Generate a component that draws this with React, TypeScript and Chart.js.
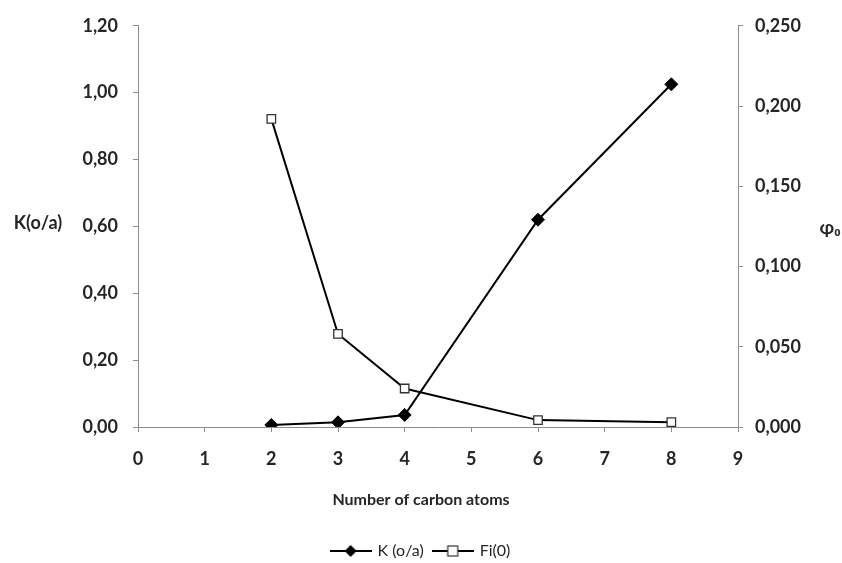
import React, { useEffect, useRef } from "react";
import { Chart, registerables } from "chart.js";

Chart.register(...registerables);

// ---- data ----
const carbonAtoms = [2, 3, 4, 6, 8];
const kValues = [0.006, 0.014, 0.036, 0.62, 1.025];
const fiValues = [0.192, 0.058, 0.024, 0.0043, 0.003];
const seriesNames = ["K (o/a)", "Fi(0)"];
const xTitle = "Number of carbon atoms";
const leftTitle = "K(o/a)";
const rightTitle = "φ₀";

const FONT = 'Lato, "DejaVu Sans", sans-serif';
const TEXT = "#262626";
const AXIS = "#8c8c8c";

function legendImage(kind: "diamond" | "square"): HTMLCanvasElement {
  const c = document.createElement("canvas");
  c.width = 42;
  c.height = 16;
  const ctx = c.getContext("2d")!;
  ctx.strokeStyle = "#000";
  ctx.lineWidth = 2;
  ctx.beginPath();
  ctx.moveTo(0, 8);
  ctx.lineTo(42, 8);
  ctx.stroke();
  if (kind === "diamond") {
    ctx.fillStyle = "#000";
    ctx.beginPath();
    ctx.moveTo(21, 2);
    ctx.lineTo(27, 8);
    ctx.lineTo(21, 14);
    ctx.lineTo(15, 8);
    ctx.closePath();
    ctx.fill();
  } else {
    ctx.fillStyle = "#fff";
    ctx.fillRect(16, 3, 10, 10);
    ctx.lineWidth = 1.2;
    ctx.strokeStyle = "#333";
    ctx.strokeRect(16, 3, 10, 10);
  }
  return c;
}

const axisTitlesPlugin = {
  id: "axisTitlesPlugin",
  afterDraw(chart: any) {
    const { ctx, chartArea, scales } = chart;
    const midY = (chartArea.top + chartArea.bottom) / 2;
    ctx.save();
    ctx.fillStyle = TEXT;
    ctx.textBaseline = "middle";
    ctx.textAlign = "center";
    ctx.font = `bold 18px ${FONT}`;
    ctx.fillText(leftTitle, chartArea.left - 100, midY - 3);
    ctx.font = `bold 19px ${FONT}`;
    ctx.fillText(rightTitle, chartArea.right + 92, midY + 1);
    ctx.font = `bold 16px ${FONT}`;
    ctx.fillText(xTitle, chart.width / 2, scales.x.bottom - 33);
    ctx.restore();
  },
};

export default function App() {
  const canvasRef = useRef<HTMLCanvasElement | null>(null);

  useEffect(() => {
    if (!canvasRef.current) return;
    const kImg = legendImage("diamond");
    const fImg = legendImage("square");
    const chart = new Chart(canvasRef.current, {
      type: "line",
      data: {
        datasets: [
          {
            label: seriesNames[0],
            data: carbonAtoms.map((x, i) => ({ x, y: kValues[i] })),
            yAxisID: "y",
            borderColor: "#000",
            borderWidth: 2,
            backgroundColor: "#000",
            pointStyle: "rectRot",
            pointRadius: 6.5,
            pointBackgroundColor: "#000",
            pointBorderColor: "#000",
            pointBorderWidth: 1,
            tension: 0,
          },
          {
            label: seriesNames[1],
            data: carbonAtoms.map((x, i) => ({ x, y: fiValues[i] })),
            yAxisID: "y1",
            borderColor: "#000",
            borderWidth: 2,
            backgroundColor: "#fff",
            pointStyle: "rect",
            pointRadius: 6,
            pointBackgroundColor: "#fff",
            pointBorderColor: "#333",
            pointBorderWidth: 1.3,
            tension: 0,
          },
        ],
      },
      options: {
        animation: false,
        responsive: false,
        maintainAspectRatio: false,
        layout: { padding: { top: 20, left: 0, right: 0, bottom: -6 } },
        plugins: {
          tooltip: { enabled: false },
          legend: {
            position: "bottom",
            labels: {
              usePointStyle: true,
              pointStyleWidth: 38,
              padding: 10,
              color: TEXT,
              font: { family: FONT, size: 16 },
              generateLabels: () => [
                { text: seriesNames[0], pointStyle: kImg as any, fillStyle: "#000", strokeStyle: "#000", lineWidth: 0, hidden: false, datasetIndex: 0, fontColor: TEXT },
                { text: seriesNames[1], pointStyle: fImg as any, fillStyle: "#fff", strokeStyle: "#000", lineWidth: 0, hidden: false, datasetIndex: 1, fontColor: TEXT },
              ],
            },
          },
        },
        scales: {
          x: {
            type: "linear",
            min: 0,
            max: 9,
            ticks: {
              stepSize: 1,
              padding: 16,
              color: TEXT,
              font: { family: FONT, size: 18, weight: "bold" },
            },
            grid: { drawOnChartArea: false, tickLength: 5, color: AXIS },
            border: { color: AXIS, width: 1 },
            afterFit: (s: any) => {
              s.height = 106;
            },
          },
          y: {
            type: "linear",
            position: "left",
            min: 0,
            max: 1.2,
            ticks: {
              stepSize: 0.2,
              padding: 15,
              color: TEXT,
              font: { family: FONT, size: 18, weight: "bold" },
              callback: (v: any) => Number(v).toFixed(2).replace(".", ","),
            },
            grid: { drawOnChartArea: false, tickLength: 5, color: AXIS },
            border: { color: AXIS, width: 1 },
            afterFit: (s: any) => {
              s.width = 138;
            },
          },
          y1: {
            type: "linear",
            position: "right",
            min: 0,
            max: 0.25,
            ticks: {
              stepSize: 0.05,
              padding: 12,
              color: TEXT,
              font: { family: FONT, size: 18, weight: "bold" },
              callback: (v: any) => Number(v).toFixed(3).replace(".", ","),
            },
            grid: { drawOnChartArea: false, tickLength: 5, color: AXIS },
            border: { color: AXIS, width: 1 },
            afterFit: (s: any) => {
              s.width = 104;
            },
          },
        },
      },
      plugins: [axisTitlesPlugin],
    });
    return () => chart.destroy();
  }, []);

  return (
    <div style={{ position: "fixed", left: 0, top: 0, width: 842, height: 563, background: "#fff" }}>
      <canvas ref={canvasRef} width={842} height={563} />
    </div>
  );
}
